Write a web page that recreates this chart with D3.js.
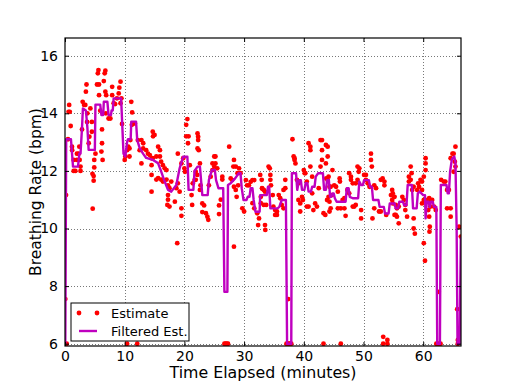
<!DOCTYPE html>
<html>
<head>
<meta charset="utf-8">
<script src="https://cdn.jsdelivr.net/npm/d3@7"></script>
<style>
body { margin: 0; background: #fff; }
text { font-family: "DejaVu Sans", sans-serif; fill: #000; }
</style>
</head>
<body>
<script>
// breathing rate estimates, [minutes, bpm]
var estimate = [
 [0.05,7.55],[0.28,6.0],[0.17,11.16],[0.5,13.1],[0.6,14.05],[0.8,14.05],[0.7,14.29],[0.95,13.56],[1.17,12.84],[1.2,12.72],
 [1.45,12.38],[1.45,12.0],[1.73,12.0],[2.0,12.6],[2.3,12.6],[2.0,12.38],[2.45,12.38],[2.6,12.15],[2.6,12.0],[2.4,12.84],
 [2.85,13.44],[2.96,14.4],[3.2,14.29],[3.4,14.29],[3.5,14.75],[3.6,15.0],[3.7,13.7],[3.75,14.0],[3.97,12.96],[4.08,13.19],
 [4.25,14.17],[4.5,13.7],[4.5,13.36],[4.6,11.9],[4.8,11.82],[4.8,11.66],[4.9,12.12],[4.64,10.69],[4.9,12.38],[5.1,12.6],
 [5.36,15.0],[5.5,15.39],[5.6,15.5],[5.7,15.0],[5.7,14.63],[5.9,14.09],[6.1,12.67],[6.3,12.38],[6.2,12.96],[6.2,13.44],
 [6.5,15.12],[6.65,15.39],[6.76,15.48],[6.76,14.75],[6.9,14.63],[6.85,14.0],[7.3,13.82],[7.6,13.82],[7.9,14.63],[7.9,14.92],
 [8.15,14.35],[8.4,14.32],[8.7,14.52],[9.0,14.69],[9.1,14.89],[9.3,15.1],[9.3,14.35],[9.45,14.52],[9.55,13.63],[10.0,12.38],
 [10.1,12.5],[10.4,12.72],[10.6,12.84],[10.8,12.5],[10.95,13.07],[11.1,14.4],[11.2,13.6],[10.4,6.0],[12.1,6.0],
 [11.25,14.03],[11.4,13.65],[11.7,13.65],[10.8,12.78],[12.2,13.07],[12.8,13.07],[13.1,12.96],[13.1,12.78],[12.5,12.72],[12.8,12.26],
 [13.6,12.72],[13.9,12.6],[14.2,12.55],[14.5,12.44],[14.7,12.44],[14.7,13.36],[15.0,13.25],[14.75,13.2],[15.6,12.84],[15.9,12.72],
 [15.3,12.5],[15.9,12.5],[16.1,12.32],[16.4,12.2],[16.7,12.09],[17.0,12.03],[14.5,12.2],[14.5,11.28],[14.5,11.86],[15.3,11.7],
 [15.6,11.75],[16.1,11.7],[16.4,11.63],[17.0,11.7],[17.25,11.5],[17.5,11.4],[17.25,11.16],[17.25,11.0],[17.5,10.76],[17.15,10.82],
 [18.4,10.93],[17.8,11.63],[18.65,11.4],[18.9,11.57],[19.2,11.28],[19.5,10.7],[19.5,10.44],[18.9,12.6],[19.5,12.26],[19.8,12.44],
 [20.0,12.09],[20.1,11.97],[20.3,13.2],[20.3,13.6],[20.5,13.8],[20.6,12.96],[20.7,13.2],[20.9,12.2],[21.2,11.16],[21.3,10.82],
 [21.4,11.57],[21.7,11.68],[18.8,9.49],[22.2,12.78],[22.2,13.3],
 [22.3,13.19],[22.3,13.07],[22.4,12.72],[22.6,12.26],[21.9,11.97],[22.15,11.86],[21.9,11.69],[22.7,11.5],[22.6,11.34],[23.0,10.87],
 [23.3,10.8],[23.0,10.57],[23.6,10.53],[23.85,10.41],[24.0,10.3],[24.1,11.5],[24.4,11.8],[24.7,12.03],[25.0,12.15],[25.0,12.5],
 [25.2,12.5],[25.2,12.26],[24.7,12.26],[25.5,12.09],[25.8,10.8],[25.8,10.5],[26.1,11.0],[26.35,11.8],[26.35,11.7],[26.7,6.0],
 [26.9,6.0],[27.1,6.0],[27.3,6.0],[27.5,12.84],[27.75,11.74],[28.0,11.68],[28.3,12.38],[28.2,12.15],[28.6,12.15],[28.9,11.92],
 [29.15,12.09],[29.4,11.92],[28.3,11.45],[28.6,11.34],[28.75,11.1],[29.0,11.5],[28.3,9.37],[29.7,10.7],[30.0,10.59],[30.3,11.68],
 [30.5,11.5],[30.8,11.5],[31.1,11.62],[31.4,11.68],[31.7,11.68],[31.4,10.88],[31.7,10.7],[32.2,10.53],[32.5,10.35],[32.35,10.12],
 [32.8,11.1],[33.05,11.38],[32.8,10.88],
 [32.7,11.86],[32.95,11.69],[33.0,11.4],[33.3,11.34],[33.5,11.28],[33.3,10.82],[33.7,10.82],[33.5,10.12],[33.55,9.95],[34.1,12.15],
 [34.3,12.09],[34.4,11.86],[34.4,11.69],[34.5,11.5],[34.8,11.16],[34.9,10.76],[35.2,10.64],[35.5,10.59],[35.2,10.47],[35.5,10.47],
 [35.8,11.16],[36.05,11.05],[36.3,10.82],[36.6,10.7],[36.6,11.34],[36.9,11.4],[36.9,11.69],[37.1,6.0],[37.3,6.0],[37.5,6.0],
 [37.7,6.0],[37.9,6.0],[37.4,7.55],[38.1,13.1],[38.3,12.5],[38.45,12.44],[38.45,12.38],[38.6,12.26],[38.85,11.69],[39.1,11.57],
 [39.1,10.99],[39.4,10.87],[39.4,10.59],[39.7,11.1],[40.0,12.03],[40.15,11.92],[40.25,11.92],[39.85,10.99],[40.5,11.63],[40.8,12.96],
 [41.1,12.84],[41.1,12.72],[41.1,12.15],[41.4,11.8],[41.4,11.22],[40.5,10.76],[40.8,10.76],[41.6,10.64],[41.9,10.87],[42.2,10.76],
 [42.5,11.4],[42.8,13.07],[43.05,13.07],[43.05,12.72],[42.8,12.15],[43.05,12.38],[43.3,10.53],[43.6,10.47],[43.9,10.99],[44.15,11.1],
 [44.15,11.8],[43.3,6.0],
 [43.7,12.9],[44.0,12.84],[44.0,12.5],[43.7,12.26],[44.8,12.03],[43.75,11.74],[44.0,11.68],[44.3,11.45],[44.5,11.45],[44.7,11.16],
 [44.3,10.93],[44.5,10.7],[44.3,10.59],[45.1,11.5],[45.4,11.45],[45.7,11.28],[46.0,11.74],[46.05,11.63],[45.7,10.7],[46.2,10.7],
 [46.8,10.7],[47.0,10.44],[46.5,10.99],[46.8,11.05],[46.2,6.0],[47.6,11.92],[47.9,11.8],[47.9,11.69],[48.2,11.57],[47.3,11.34],
 [47.6,11.22],[48.2,10.76],[48.45,10.76],[48.7,10.82],[49.0,12.15],[49.3,12.09],[49.2,11.97],[49.0,11.69],[48.7,11.57],[49.6,10.35],
 [49.6,10.64],[50.1,11.86],[50.4,11.86],[50.4,11.69],[50.7,11.57],[51.0,11.45],[51.25,12.6],[51.25,12.38],[51.4,12.15],[51.8,11.5],
 [52.1,11.4],[51.8,10.7],[51.5,10.35],[52.6,10.59],[52.9,10.59],[52.9,11.69],[53.5,11.63],[53.2,11.74],[53.5,11.5],[53.8,10.47],
 [53.3,6.24],[54.0,6.13],[53.3,6.0],[54.0,6.0],[54.6,11.16],[54.9,11.22],[55.2,11.1],[54.9,10.87],[55.2,10.47],
 [54.8,11.34],[55.1,11.1],[54.8,10.99],[55.4,10.82],[55.6,10.7],[55.4,10.47],[55.9,10.76],[55.6,10.41],[55.9,10.18],[56.5,11.1],
 [56.75,10.99],[57.0,10.82],[57.0,10.64],[57.3,10.41],[57.6,11.8],[57.9,12.15],[58.05,11.92],[57.6,11.63],[57.9,11.69],[58.15,11.34],
 [58.4,11.45],[58.4,10.35],[58.4,10.0],[58.6,9.82],[59.0,11.34],[59.3,11.45],[59.15,11.57],[59.55,11.69],[59.8,11.63],[59.8,11.34],
 [59.8,10.87],[60.1,10.99],[60.1,11.8],[60.4,12.26],[60.4,12.44],[60.4,12.03],[60.7,10.99],[60.85,10.64],[61.0,10.41],[61.0,11.05],
 [61.2,10.99],[61.5,10.99],[61.2,10.76],[61.8,10.76],[61.1,10.06],[61.05,9.89],[60.1,9.49],[62.1,10.64],[60.3,8.88],[62.6,7.8],
 [62.2,6.0],[62.5,6.0],[62.9,6.0],[63.0,11.69],[63.45,11.63],[63.7,11.63],[64.0,11.34],[64.3,11.34],[64.0,10.7],[64.6,10.7],
 [64.6,10.41],[65.1,11.97],[65.4,12.15],[65.3,12.32],[64.9,12.6],[65.1,12.6],[65.4,12.84],[64.6,12.44],[66.0,10.06],[66.3,9.72],
 [65.7,7.2],[65.8,6.13],[65.8,6.0]
];

// filtered estimate, [minutes, bpm]
var filtered = [
 [0.05,6.0],[0.2,13.1],[1.0,13.1],[1.34,12.15],[2.18,12.15],[2.4,12.6],[2.6,12.6],[2.85,13.5],[3.0,14.17],[3.5,14.1],
 [3.75,13.5],[3.96,12.73],[5.0,12.73],[5.1,14.3],[5.9,14.3],[6.1,13.94],[6.4,13.94],[6.5,14.4],[7.1,14.4],[7.3,13.94],
 [7.7,13.94],[7.8,14.1],[8.0,14.1],[8.15,14.52],[9.4,14.52],[9.8,12.6],[10.1,12.5],[10.4,13.0],[10.55,13.1],[11.0,13.1],
 [11.1,13.71],[11.9,13.71],[12.1,13.07],[12.5,12.8],[13.07,12.6],[13.6,12.45],[14.74,12.38],[15.58,12.27],[16.13,11.97],[16.7,11.63],
 [17.25,11.34],[17.8,11.28],[18.65,11.51],[19.2,12.09],[19.77,12.49],[20.5,12.49],[20.7,11.34],[21.5,11.34],[21.7,12.0],[22.2,12.15],
 [22.6,12.15],[23.0,11.16],[23.9,11.16],[24.1,11.68],[24.6,12.03],[25.1,12.03],[25.3,11.68],[25.7,11.4],[26.5,11.4],[26.7,7.8],
 [27.2,7.8],[27.3,11.51],[27.75,11.57],[28.5,11.74],[29.1,11.92],[29.4,11.92],[29.6,11.4],[29.9,10.99],[30.4,10.99],[30.6,11.1],
 [30.9,11.1],[31.1,11.4],[31.4,11.4],[31.6,10.99],[31.9,10.58],[32.6,10.58],[32.7,11.16],[33.8,11.16],[34.0,11.45],[34.2,11.45],
 [34.4,10.7],[35.6,10.7],[35.9,10.75],[36.3,10.99],[37.0,10.99],[37.2,6.0],[37.9,6.0],[38.0,11.92],[38.7,11.92],[38.9,11.34],
 [39.2,11.68],[39.5,11.68],[39.7,11.34],[40.1,11.34],[40.3,11.57],[40.6,11.57],[40.8,11.28],[41.2,11.28],[41.4,11.45],[41.8,11.45],
 [42.0,11.8],[42.4,11.92],[43.2,11.92],[43.4,11.34],[43.7,11.34],[43.9,11.68],[44.2,11.68],[44.4,11.1],[44.6,11.1],[44.8,11.22],
 [45.0,11.22],[45.2,11.05],[45.5,10.93],[47.0,10.93],[47.2,11.4],[47.5,11.4],[47.7,11.1],[48.2,11.05],[49.1,11.05],[49.3,11.63],
 [49.6,11.51],[49.9,11.51],[50.1,11.68],[50.9,11.68],[51.1,11.45],[51.4,11.45],[51.6,10.99],[52.5,10.99],[52.7,10.75],[53.4,10.75],
 [53.6,10.52],[54.2,10.52],[54.4,10.87],[55.2,10.87],[55.4,10.7],[55.8,10.7],[56.0,10.93],[56.6,10.93],[56.8,10.81],[57.2,10.81],
 [57.4,11.51],[58.1,11.51],[58.3,10.7],[58.9,10.7],[59.1,11.22],[59.4,11.28],[60.0,11.16],[60.3,11.16],[60.4,10.35],[60.6,10.93],
 [60.9,10.93],[61.1,10.75],[61.3,10.93],[61.6,10.93],[61.8,10.75],[62.2,10.75],[62.35,6.0],[62.8,6.0],[62.95,11.51],[63.9,11.51],
 [64.1,11.22],[64.3,11.22],[64.5,11.97],[64.8,12.4],[65.2,12.5],[65.4,12.3],[65.6,10.0],[65.75,6.0],[66.1,6.0],[66.3,9.7]
];

var xTicks = [0, 10, 20, 30, 40, 50, 60];
var yTicks = [6, 8, 10, 12, 14, 16];

var W = 512, H = 386;
var mLeft = 65, mRight = 461, mTop = 38, mBottom = 346;

var x = d3.scaleLinear().domain([0, 66.33]).range([mLeft, mRight]);
var y = d3.scaleLinear().domain([5.92, 16.615]).range([mBottom, mTop]);

var svg = d3.select("body").append("svg")
    .attr("width", W)
    .attr("height", H);

svg.append("rect").attr("width", W).attr("height", H).attr("fill", "#fff");

svg.append("clipPath").attr("id", "plot")
  .append("rect")
    .attr("x", mLeft).attr("y", mTop)
    .attr("width", mRight - mLeft).attr("height", mBottom - mTop);

// grid
var grid = svg.append("g")
    .attr("stroke", "#555")
    .attr("stroke-width", 0.8)
    .attr("stroke-dasharray", "1,2");
grid.selectAll(".gx").data(xTicks.slice(1)).enter().append("line")
    .attr("x1", function(d) { return Math.round(x(d)) + 0.5; })
    .attr("x2", function(d) { return Math.round(x(d)) + 0.5; })
    .attr("y1", mTop).attr("y2", mBottom);
grid.selectAll(".gy").data(yTicks).enter().append("line")
    .attr("y1", function(d) { return Math.round(y(d)) + 0.5; })
    .attr("y2", function(d) { return Math.round(y(d)) + 0.5; })
    .attr("x1", mLeft).attr("x2", mRight);

var plot = svg.append("g").attr("clip-path", "url(#plot)");

plot.selectAll("circle").data(estimate).enter().append("circle")
    .attr("cx", function(d) { return x(d[0]); })
    .attr("cy", function(d) { return y(d[1]); })
    .attr("r", 2.4)
    .attr("fill", "#ff0000");

plot.append("path")
    .datum(filtered)
    .attr("fill", "none")
    .attr("stroke", "#bf00bf")
    .attr("stroke-width", 2.4)
    .attr("stroke-linejoin", "round")
    .attr("d", d3.line()
        .x(function(d) { return x(d[0]); })
        .y(function(d) { return y(d[1]); }));

// axes, ticks pointing inwards on all four sides
var xAxis = d3.axisBottom(x).tickValues(xTicks).tickSize(-4).tickPadding(5).tickFormat(d3.format("d"));
var yAxis = d3.axisLeft(y).tickValues(yTicks).tickSize(-4).tickPadding(7).tickFormat(d3.format("d"));

var gx = svg.append("g").attr("transform", "translate(0," + mBottom + ")").call(xAxis);
var gy = svg.append("g").attr("transform", "translate(" + mLeft + ",0)").call(yAxis);
svg.append("g").attr("transform", "translate(0," + mTop + ")")
    .call(d3.axisTop(x).tickValues(xTicks).tickSize(-4).tickFormat(""));
svg.append("g").attr("transform", "translate(" + mRight + ",0)")
    .call(d3.axisRight(y).tickValues(yTicks).tickSize(-4).tickFormat(""));

svg.selectAll(".domain").remove();
svg.selectAll(".tick line").attr("stroke", "#000");
gx.selectAll("text").style("font-size", "14px").attr("fill", "#000");
gy.selectAll("text").style("font-size", "14px").attr("fill", "#000");

svg.append("rect")
    .attr("x", mLeft).attr("y", mTop)
    .attr("width", mRight - mLeft).attr("height", mBottom - mTop)
    .attr("fill", "none").attr("stroke", "#000").attr("stroke-width", 1.2);

svg.append("text")
    .attr("x", (mLeft + mRight) / 2).attr("y", 378)
    .attr("text-anchor", "middle")
    .style("font-size", "15.8px")
    .text("Time Elapsed (minutes)");

svg.append("text")
    .attr("transform", "translate(41," + (mTop + mBottom) / 2 + ") rotate(-90)")
    .attr("text-anchor", "middle")
    .style("font-size", "15.5px")
    .text("Breathing Rate (bpm)");

// legend
var lg = svg.append("g").attr("transform", "translate(71,303)");
lg.append("rect")
    .attr("width", 118).attr("height", 38)
    .attr("fill", "#fff").attr("stroke", "#000").attr("stroke-width", 1);
lg.selectAll(".ld").data([8, 26]).enter().append("circle")
    .attr("cx", function(d) { return d; }).attr("cy", 10)
    .attr("r", 2.4).attr("fill", "#ff0000");
lg.append("line")
    .attr("x1", 8).attr("x2", 26).attr("y1", 28).attr("y2", 28)
    .attr("stroke", "#bf00bf").attr("stroke-width", 2.4);
lg.append("text").attr("x", 40).attr("y", 14.5).style("font-size", "13px").text("Estimate");
lg.append("text").attr("x", 40).attr("y", 32.5).style("font-size", "13px").text("Filtered Est.");
</script>
</body>
</html>
